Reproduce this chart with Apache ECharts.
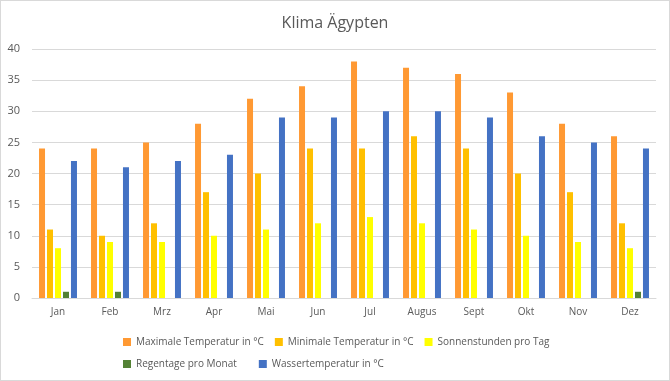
<!DOCTYPE html>
<html><head><meta charset="utf-8">
<script src="https://cdn.jsdelivr.net/npm/echarts@6/dist/echarts.min.js"></script>
<style>html,body{margin:0;padding:0;background:#fff}#c{width:668px;height:379px;border:1px solid #d9d9d9}</style>
</head><body><div id="c"></div>
<script>
const categories = ['Jan','Feb','Mrz','Apr','Mai','Jun','Jul','Augus','Sept','Okt','Nov','Dez'];
const maxTemp = [24,24,25,28,32,34,38,37,36,33,28,26];
const minTemp = [11,10,12,17,20,24,24,26,24,20,17,12];
const sunHours = [8,9,9,10,11,12,13,12,11,10,9,8];
const rainDays = [1,1,0,0,0,0,0,0,0,0,0,1];
const waterTemp = [22,21,22,23,29,29,30,30,29,26,25,24];
const names = ['Maximale Temperatur in °C','Minimale Temperatur in °C','Sonnenstunden pro Tag','Regentage pro Monat','Wassertemperatur in °C'];
const colors = ['#FF9933','#FFC000','#FFFF00','#548235','#4472C4'];
const datas = [maxTemp,minTemp,sunHours,rainDays,waterTemp];
const font = 'Open Sans, Liberation Sans, sans-serif';
const chart = echarts.init(document.getElementById('c'));
chart.setOption({
  animation:false,
  color:colors,
  title:{text:'Klima Ägypten',left:'center',top:9,textStyle:{fontFamily:font,fontSize:16,fontWeight:'normal',color:'#595959'}},
  legend:[
    {data:names.slice(0,3),left:117,top:331,itemWidth:8,itemHeight:8,itemGap:11,icon:'rect',textStyle:{fontFamily:font,fontSize:10,color:'#595959'}},
    {data:names.slice(3),left:117,top:353,itemWidth:8,itemHeight:8,itemGap:22,icon:'rect',textStyle:{fontFamily:font,fontSize:10,color:'#595959'}}
  ],
  grid:{left:31,right:13,top:48,bottom:82},
  xAxis:{type:'category',data:categories,axisTick:{show:false},axisLine:{lineStyle:{color:'#d9d9d9'}},
    axisLabel:{fontFamily:font,fontSize:10,color:'#595959',margin:9}},
  yAxis:{type:'value',min:0,max:40,interval:5,axisLabel:{fontFamily:font,fontSize:11,color:'#595959',margin:12},
    splitLine:{lineStyle:{color:'#d9d9d9'}}},
  series:datas.map((d,i)=>({name:names[i],type:'bar',data:d,barGap:'33%',barCategoryGap:'27%'}))
});
</script></body></html>
